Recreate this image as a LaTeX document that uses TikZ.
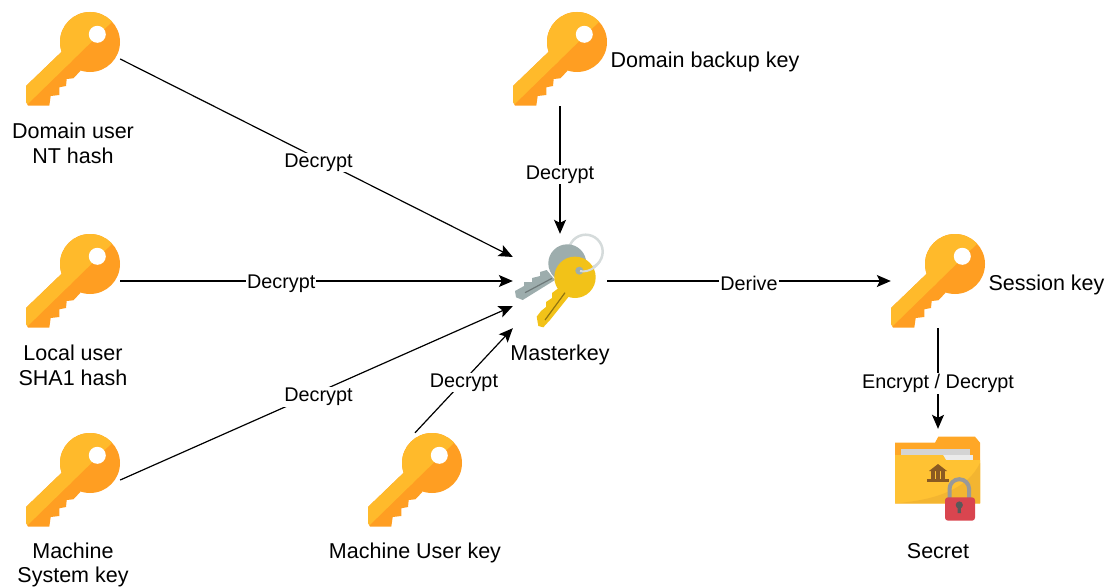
\documentclass[tikz,border=0pt]{standalone}
\usepackage{fontspec}
\setmainfont{Liberation Sans}
\usetikzlibrary{arrows.meta}

\definecolor{keylight}{HTML}{FFBA2B}
\definecolor{keydark}{HTML}{FF9E22}
\definecolor{ringgrey}{HTML}{D5DBDB}
\definecolor{oldgrey}{HTML}{9DADAD}
\definecolor{newyellow}{HTML}{F2C218}
\definecolor{folderback}{HTML}{FFA726}
\definecolor{folderfront}{HTML}{FFC233}
\definecolor{foldershade}{HTML}{F3B531}
\definecolor{bankbrown}{HTML}{8A5A22}
\definecolor{lockred}{HTML}{D9454F}

\tikzset{
  iconbox/.style={minimum size=94pt, inner sep=0pt},
  caption/.style={align=center, font=\fontsize{21.5}{24.5}\selectfont},
  link/.style={line width=1.2pt, -{Stealth[length=14pt,width=12pt,inset=3pt]}},
  linktext/.style={fill=white, inner sep=1pt, yshift=-2pt, font=\fontsize{19.8}{24}\selectfont},
  goldkey/.pic={
    \def\keyblade{(-11.3,-7.3) -- (-47,27) -- (-47,42.7) -- (-45,46.7) -- (-23.7,46.7) -- (-22.3,37)
      -- (-13.7,36) -- (-13.7,28.3) -- (-7,27) -- (-6.3,20) -- (0.3,19.3) -- (7.7,11.7) -- cycle}
    \fill[keydark] (17,-17) circle (30);
    \fill[keydark] \keyblade;
    \begin{scope}
      \clip (-50,49.7) -- (45,-43) -- (45,-60) -- (-50,-60) -- cycle;
      \fill[keylight] (17,-17) circle (30);
      \fill[keylight] \keyblade;
    \end{scope}
    \fill[white] (24.3,-24.7) circle (8.5);
  },
  masterkeys/.pic={
    \draw[ringgrey, line width=2.5pt] (25.7,-29.3) circle (17);
    \fill[oldgrey] (7.3,-17.7) circle (19);
    \fill[oldgrey] (-13.3,-11) -- (-20,-9) -- (-20,-5) -- (-28,-3) -- (-28,1) -- (-36,1) -- (-36,5)
      -- (-45,10) -- (-44,16.3) -- (-37.3,19) -- (-5,-1) -- cycle;
    \draw[black!30!oldgrey, line width=1.2pt] (-35,11.7) -- (-8,-2.7);
    \fill[newyellow] (15,-3.7) circle (20.7);
    \fill[newyellow] (-1.7,7.3) -- (-8,12) -- (-8,17) -- (-14,21) -- (-14,26) -- (-19,30) -- (-23.3,35.7)
      -- (-21.7,45) -- (-16.7,46.3) -- (-10,39) -- (10,14) -- cycle;
    \draw[black!40!newyellow, line width=1.2pt] (-15,39) -- (5,11.7);
    \fill[oldgrey] (19.3,-10.3) circle (4);
    \draw[ringgrey, line width=2pt] (20,-10) .. controls (28,-8) and (37,-14) .. (40,-20);
  },
  lockedfolder/.pic={
    \fill[folderback] (-43,-33.3) -- (-3,-33.3) -- (0.3,-39.3) -- (37,-39.3) -- (42,-33.3)
      -- (42,27.3) -- (-43,27.3) -- cycle;
    \fill[black!17] (-37,-27) rectangle (32,-21);
    \fill[black!8] (5,-21) rectangle (35,-16);
    \fill[folderfront] (-43,-21) -- (5,-21) -- (8,-16) -- (42,-16) -- (42,27.3) -- (-43,27.3) -- cycle;
    \fill[foldershade] (42,-13) .. controls (30,12) and (0,24) .. (-43,27.3) -- (42,27.3) -- cycle;
    % bank sign
    \fill[bankbrown] (0,-12) -- (9,-5) -- (-9,-5) -- cycle;
    \foreach \colx in {-7,-2,3} \fill[bankbrown] (\colx,-5) rectangle ++(4,9);
    \fill[bankbrown] (-11,3) rectangle (11,6);
    % padlock
    \draw[black!40, line width=4pt] (11.5,22) -- (11.5,13) arc[start angle=180, end angle=360, radius=9.8] -- (31.1,22);
    \fill[lockred, rounded corners=3pt] (7,21.3) rectangle (37,44.7);
    \fill[black!65] (21.3,29) circle (3.6);
    \fill[black!65] (19.8,29) -- (22.8,29) -- (23,37) -- (19.6,37) -- cycle;
  },
}

\begin{document}
\begin{tikzpicture}[x=1pt,y=-1pt]
    \useasboundingbox (0,0) rectangle (1107,586);

    \node[iconbox] (ntkey) at (73,59) {};
    \node[iconbox] (shakey) [below of=ntkey, node distance=222pt] {};
    \node[iconbox] (syskey) [below of=shakey, node distance=199pt] {};
    \node[iconbox] (userkey) [right of=syskey, node distance=342pt] {};
    \node[iconbox] (backupkey) [right of=ntkey, node distance=487pt] {};
    \node[iconbox] (masterkey) [below of=backupkey, node distance=222pt] {};
    \node[iconbox] (sessionkey) [right of=masterkey, node distance=378pt] {};
    \node[iconbox] (secret) [below of=sessionkey, node distance=195pt] {};

    \foreach \keyname in {ntkey,shakey,syskey,userkey,backupkey,sessionkey}
      \pic at (\keyname) {goldkey};
    \pic at (masterkey) {masterkeys};
    \pic at (secret) {lockedfolder};

    \node[caption] (ntlabel) [below of=ntkey, node distance=84.5pt] {Domain user\\NT hash};
    \node[caption] (shalabel) [below of=shakey, node distance=84.5pt] {Local user\\SHA1 hash};
    \node[caption] (syslabel) [below of=syskey, node distance=85pt] {Machine\\System key};
    \node[caption] (userlabel) [below of=userkey, node distance=73pt] {Machine User key};
    \node[caption, anchor=west] (backuplabel) at (607,62) {Domain backup key};
    \node[caption] (masterlabel) [below of=masterkey, node distance=74pt] {Masterkey};
    \node[caption, anchor=west] (sessionlabel) at (985,285) {Session key};
    \node[caption] (secretlabel) [below of=secret, node distance=75pt] {Secret};

    \path[link] (ntkey.east) edge node[linktext, pos=.505, yshift=-1.5pt] {Decrypt} (masterkey.153)
          (shakey.east) edge node[linktext, pos=.41, yshift=-.5pt] {Decrypt} (masterkey.west)
          (syskey.east) edge node[linktext, pos=.505, yshift=-3pt] {Decrypt} (masterkey.208)
          (userkey.north) edge node[linktext] {Decrypt} (masterkey.south west)
          (backupkey.south) edge node[linktext, pos=.52] {Decrypt} (masterkey.north)
          (masterkey.east) edge node[linktext] {Derive} (sessionkey.west)
          (sessionkey.south) edge node[linktext, pos=.53] {Encrypt / Decrypt} (secret.north);
\end{tikzpicture}
\end{document}
